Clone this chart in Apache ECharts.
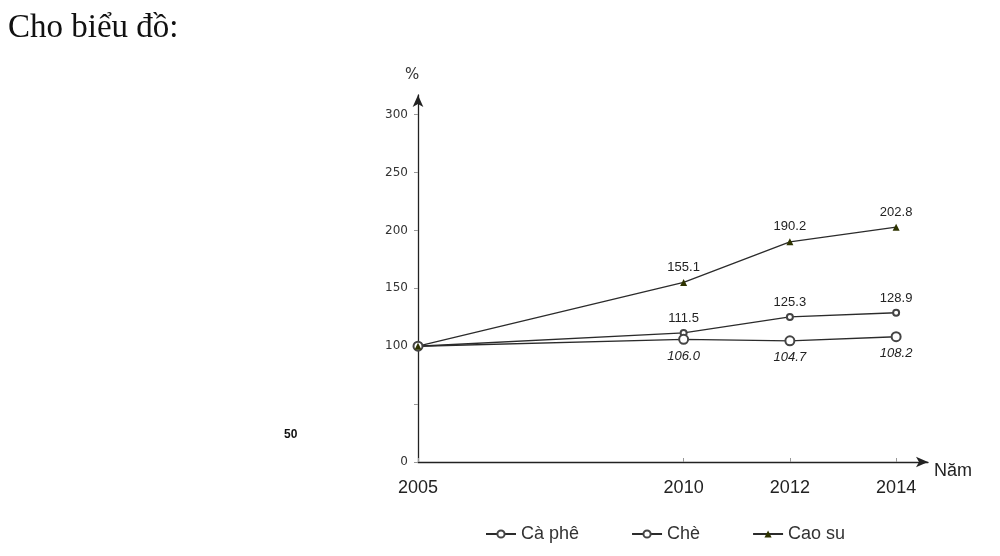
<!DOCTYPE html>
<html>
<head>
<meta charset="utf-8">
<script src="https://cdn.jsdelivr.net/npm/echarts@6/dist/echarts.min.js"></script>
<style>
  html, body { margin: 0; padding: 0; background: #fff; }
  #chart { width: 1000px; height: 556px; }
</style>
</head>
<body>
<div id="chart"></div>
<script>
// số liệu
var years = [2005, 2010, 2012, 2014];
var caPhe = [100, 111.5, 125.3, 128.9];
var che = [100, 106.0, 104.7, 108.2];
var caoSu = [100, 155.1, 190.2, 202.8];
var yLabels = [0, 100, 150, 200, 250, 300];

function pairs(vals) {
  return vals.map(function (v, i) { return [years[i], v]; });
}

var lineStyle = { color: "#2b2b2b", width: 1.3 };

var myChart = echarts.init(document.getElementById("chart"));
myChart.setOption({
  animation: false,
  textStyle: { fontFamily: "Liberation Sans" },
  grid: { left: 418, right: 72, top: 95, bottom: 94 },
  graphic: [
    { type: "text", left: 8, top: 12, style: { text: "Cho biểu đồ:", font: "33px 'Liberation Serif'", fill: "#111" } },
    { type: "text", left: 405, top: 68, style: { text: "%", font: "15px 'DejaVu Sans'", fill: "#333" } },
    { type: "text", left: 934, top: 462, style: { text: "Năm", font: "18px 'Liberation Sans'", fill: "#222" } },
    { type: "text", left: 284, top: 429, style: { text: "50", font: "bold 12px 'Liberation Sans'", fill: "#111" } }
  ],
  legend: {
    bottom: 8,
    left: 480,
    itemGap: 52,
    itemWidth: 30,
    itemHeight: 9,
    textStyle: { fontSize: 18, color: "#333", fontFamily: "Liberation Sans" },
    data: ["Cà phê", "Chè", "Cao su"]
  },
  xAxis: {
    type: "value",
    min: 2005,
    max: 2014.6,
    splitLine: { show: false },
    axisLine: { lineStyle: { color: "#222", width: 1.3 }, symbol: ["none", "arrow"], symbolSize: [8, 12] },
    axisTick: { show: true, inside: true, length: 4, customValues: years, lineStyle: { color: "#999" } },
    axisLabel: {
      customValues: years, fontSize: 18, color: "#222", margin: 17, fontFamily: "Liberation Sans",
      formatter: function (v) { return String(v); }
    }
  },
  yAxis: {
    type: "value",
    min: 0,
    max: 317,
    splitLine: { show: false },
    axisLine: { show: true, lineStyle: { color: "#222", width: 1.3 }, symbol: ["none", "arrow"], symbolSize: [8, 12] },
    axisTick: { show: true, length: 4, customValues: [0, 50, 100, 150, 200, 250, 300], lineStyle: { color: "#999" } },
    axisLabel: { customValues: yLabels, fontSize: 12, color: "#333", margin: 10, fontFamily: "DejaVu Sans" }
  },
  series: [
    {
      name: "Cà phê",
      type: "line",
      data: pairs(caPhe),
      symbol: "emptyCircle",
      symbolSize: 6,
      lineStyle: lineStyle,
      itemStyle: { color: "#444", borderWidth: 1 },
      label: {
        show: true, position: "top", distance: 4, fontSize: 13, color: "#222",
        formatter: function (p) { return p.dataIndex === 0 ? "" : p.value[1].toFixed(1); }
      }
    },
    {
      name: "Chè",
      type: "line",
      data: pairs(che),
      symbol: "emptyCircle",
      symbolSize: 9,
      lineStyle: lineStyle,
      itemStyle: { color: "#444", borderWidth: 1.2 },
      label: {
        show: true, position: "bottom", distance: 5, fontSize: 13, fontStyle: "italic", color: "#222",
        formatter: function (p) { return p.dataIndex === 0 ? "" : p.value[1].toFixed(1); }
      }
    },
    {
      name: "Cao su",
      type: "line",
      data: pairs(caoSu),
      symbol: "triangle",
      symbolSize: 7,
      lineStyle: lineStyle,
      itemStyle: { color: "#2e3300" },
      label: {
        show: true, position: "top", distance: 5, fontSize: 13, color: "#222",
        formatter: function (p) { return p.dataIndex === 0 ? "" : p.value[1].toFixed(1); }
      }
    }
  ]
});
window.addEventListener("resize", function () {
  myChart.resize();
});
</script>
</body>
</html>
